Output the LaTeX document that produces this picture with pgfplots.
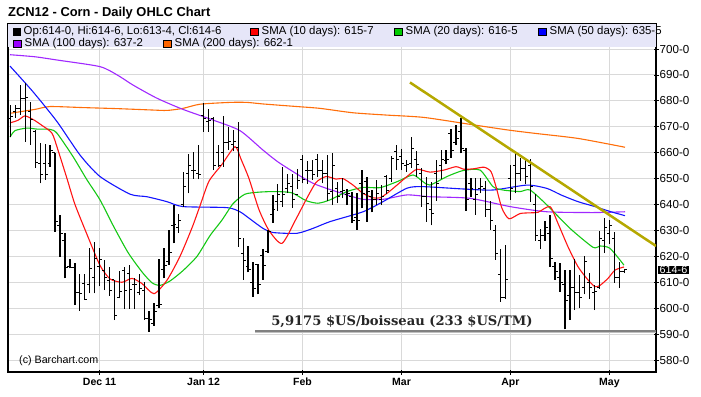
\documentclass[border=0pt]{standalone}
\usepackage{fontspec}
\setmainfont{Liberation Sans}
\newfontfamily\dvserif{DejaVu Serif}
\usepackage{pgfplots}
\usepackage{pgfplotstable}
\pgfplotsset{compat=1.18}
\definecolor{smared}{RGB}{255,20,20}
\definecolor{smagreen}{RGB}{20,200,20}
\definecolor{smablue}{RGB}{20,20,255}
\definecolor{smapurple}{RGB}{160,40,255}
\definecolor{smaorange}{RGB}{255,110,10}
\definecolor{legred}{RGB}{255,0,0}
\definecolor{leggreen}{RGB}{0,204,0}
\definecolor{legblue}{RGB}{0,0,255}
\definecolor{legpurple}{RGB}{153,0,255}
\definecolor{legorange}{RGB}{255,102,0}
\definecolor{bandc}{RGB}{230,230,248}
\definecolor{trendc}{RGB}{181,168,0}
\definecolor{gridc}{RGB}{217,217,217}

\pgfplotstableread{
i H L O C
0 678.4 666.2 673.0 674.0
1 678.5 673.5 676.0 677.0
2 686.0 674.5 677.0 681.0
3 686.8 664.2 681.0 681.4
4 679.5 663.0 676.0 672.9
5 668.7 654.0 668.0 656.3
6 663.9 648.2 656.0 651.7
7 663.5 649.5 656.0 651.7
8 663.0 654.5 656.0 661.0
9 660.0 629.5 660.0 633.4
10 636.0 619.9 632.0 628.9
11 628.9 611.5 626.0 615.8
12 619.0 615.4 616.0 615.8
13 617.3 601.2 615.8 606.1
14 613.0 599.0 606.0 605.7
15 613.2 603.3 609.6 603.5
16 623.1 605.7 609.0 615.4
17 625.7 605.7 612.0 619.0
18 623.1 608.5 616.0 618.6
19 618.6 607.0 614.5 612.0
20 616.0 604.8 610.5 607.0
21 610.9 595.4 610.9 597.0
22 614.4 603.8 604.0 606.4
23 616.0 599.6 614.5 606.8
24 616.5 599.8 613.5 607.3
25 611.5 599.6 609.3 609.3
26 613.0 605.0 606.0 607.7
27 610.0 595.5 607.0 596.1
28 599.0 590.9 596.0 595.5
29 602.0 593.2 594.0 598.6
30 618.9 600.0 601.0 601.6
31 623.3 611.5 615.0 616.3
32 630.0 616.7 618.0 621.4
33 640.0 625.0 632.0 632.1
34 636.3 629.2 631.0 634.0
35 652.5 639.0 640.0 647.0
36 659.6 644.3 652.0 655.0
37 660.4 650.0 653.0 653.3
38 663.0 649.7 652.0 651.7
39 679.2 668.1 674.5 673.3
40 676.7 668.1 672.0 672.6
41 673.6 653.3 673.3 655.0
42 663.0 654.6 660.0 654.9
43 674.0 654.6 660.0 664.0
44 670.0 661.0 664.0 664.3
45 668.7 660.5 663.0 664.3
46 672.0 623.7 662.0 627.0
47 627.0 610.9 621.0 618.5
48 624.0 613.8 616.0 614.9
49 618.0 604.5 610.0 607.7
50 617.0 605.3 616.7 609.0
51 623.0 611.0 620.5 616.3
52 630.3 621.4 622.0 629.5
53 643.5 633.0 636.0 638.1
54 648.0 637.5 641.0 643.7
55 654.6 639.2 641.0 643.7
56 651.7 644.6 646.0 648.2
57 651.6 638.8 646.9 641.8
58 653.6 645.9 644.0 649.2
59 659.1 648.2 657.2 649.5
60 656.8 648.0 653.0 653.3
61 657.2 649.5 653.3 651.4
62 659.3 650.5 657.2 653.3
63 657.3 648.2 653.3 651.8
64 659.0 641.5 652.0 644.3
65 659.7 639.8 645.0 655.0
66 648.5 640.5 646.0 643.0
67 650.1 642.5 645.0 645.6
68 645.8 639.8 644.0 644.3
69 645.0 632.8 643.0 634.0
70 644.6 630.2 635.0 634.0
71 653.3 638.5 648.2 644.3
72 650.8 633.4 648.8 645.0
73 645.6 637.0 643.0 641.8
74 649.5 639.8 642.0 644.3
75 647.5 639.8 642.0 643.0
76 651.4 644.0 650.8 645.6
77 658.8 648.5 650.0 657.8
78 663.0 653.3 660.4 657.2
79 661.3 653.3 658.5 655.9
80 657.2 652.5 655.0 655.3
81 666.0 654.0 656.0 661.7
82 660.7 650.8 657.2 655.3
83 654.0 639.2 652.0 643.0
84 650.5 633.4 643.0 640.5
85 648.8 632.0 638.0 636.6
86 657.2 641.5 652.0 648.2
87 661.2 649.8 655.0 657.2
88 661.0 655.5 657.0 657.2
89 669.0 658.0 667.5 661.0
90 670.7 663.0 664.0 665.5
91 673.3 659.7 668.0 661.7
92 661.7 637.5 661.0 642.0
93 650.1 643.0 648.0 646.0
94 650.1 636.0 642.0 644.0
95 650.1 644.3 646.0 647.0
96 649.0 635.3 646.0 638.0
97 641.5 630.2 638.0 634.0
98 632.0 618.6 630.0 621.0
99 622.8 602.5 613.0 604.0
100 624.5 603.5 604.0 611.0
101 655.2 641.8 650.0 646.0
102 659.7 644.3 655.0 652.0
103 658.0 649.2 652.0 654.0
104 658.0 647.8 654.0 651.0
105 657.6 641.1 655.0 647.0
106 644.0 626.0 640.0 628.0
107 630.5 622.8 626.0 628.0
108 633.7 626.0 628.0 631.0
109 636.0 616.0 629.0 619.0
110 618.0 610.9 616.0 614.0
111 617.3 606.4 612.0 610.0
112 614.7 591.8 609.0 603.0
113 614.7 595.5 605.0 608.0
114 619.0 599.3 608.0 606.0
115 612.8 600.0 606.0 604.0
116 620.0 605.3 608.0 618.0
117 613.5 603.5 610.0 608.0
118 609.0 599.3 606.0 606.5
119 629.6 607.5 608.0 627.0
120 634.7 621.2 626.0 631.0
121 634.0 624.7 629.0 632.0
122 629.4 609.9 627.0 612.0
123 617.7 607.7 612.0 614.0
124 614.75 613.5 614.0 614.75
}\bars

\newcommand{\legfont}{\fontsize{11.4}{12}\selectfont}
\newcommand{\legsq}[3]{\node[draw=black, fill=#3, minimum size=7.5pt, inner sep=0pt, line width=0.5pt] at (#1pt,-#2pt) {};}
\newcommand{\legtx}[3]{\node[anchor=west, inner sep=0pt, font=\legfont] at (#1pt,-#2pt) {#3};}

\begin{document}
\begin{tikzpicture}
\path[use as bounding box] (0pt,0pt) rectangle (701pt,-396pt);
\begin{axis}[
  at={(8pt,-24pt)}, anchor=north west,
  scale only axis, width=648pt, height=348pt,
  xmin=8, xmax=656, ymin=575.38, ymax=709.65,
  axis line style={line width=1.4pt, black},
  xtick={99.6,203.55,302.55,401.55,510.45,609.45},
  xticklabels={Dec 11,Jan 12,Feb,Mar,Apr,May},
  ytick={580,590,...,700},
  yticklabels={580-0,590-0,600-0,610-0,620-0,630-0,640-0,650-0,660-0,670-0,680-0,690-0,700-0},
  ytick pos=right, yticklabel pos=right, xtick pos=bottom,
  tick align=center, major tick length=5pt,
  tick style={black, line width=0.8pt},
  grid=major, grid style={gridc, line width=0.9pt},
  yticklabel style={font=\fontsize{11.6}{12}\selectfont, inner xsep=1pt},
  xticklabel style={font=\bfseries\fontsize{10.5}{12}\selectfont},
]
% legend band
\fill[bandc] (axis cs:8,700.8) rectangle (axis cs:656,709.65);

% SMA 200
\addplot[smaorange, line width=1.1pt, smooth, tension=0.4, mark=none] coordinates {
(10,675.2) (35,676.7) (50,677.8) (83,677.4) (117,677) (150,676.5) (167,676.3) (183,677.1) (200,678.7) (230,679.4) (247,679.4) (263,678.8) (297,677.8) (320,677.1) (353,675.4) (387,674.5) (424,673.6) (474,670.7) (507,668.8) (534,667.5) (578,665.5) (625,662.1)};
% SMA 100
\addplot[smapurple, line width=1.1pt, smooth, tension=0.4, mark=none] coordinates {
(10,697.8) (35,697) (58,695.7) (100,693.2) (118,689.8) (133,686.1) (157,681) (183,676.7) (213,672.6) (240,668.5) (263,661) (280,655.9) (313,648.2) (347,643.7) (363,642) (383,642) (407,643.7) (430,643) (470,642.4) (510,639.2) (547,637.2) (593,636.9) (625,637.2)};
% SMA 50
\addplot[smablue, line width=1.1pt, smooth, tension=0.4, mark=none] coordinates {
(10,693.4) (33,683.5) (57,672) (80,659.1) (100,650.8) (130,644) (147,643) (167,641.1) (183,639.2) (227,638.8) (240,637.2) (247,635.3) (263,630.8) (273,629.2) (297,628.9) (313,630.8) (330,633.4) (363,637.2) (383,641.1) (407,646.3) (423,646.9) (463,646) (493,645.6) (527,647.5) (547,646.2) (561,643.7) (578,641.1) (595,639.2) (611,637.2) (625,635.7)};
% SMA 20
\addplot[smagreen, line width=1.1pt, smooth, tension=0.4, mark=none] coordinates {
(10,666) (15,668.5) (27,669.5) (37,669.1) (50,669) (57,667.5) (73,658.5) (87,649.5) (100,641.8) (113,632) (128,621.5) (142,614) (152,609.8) (160,608.8) (170,610.5) (183,614.5) (197,620) (210,628) (222,634) (233,640.3) (245,644) (260,644.8) (276,645) (292,644.5) (306,641.5) (318,640.5) (330,641.8) (347,645) (363,646.6) (380,646.5) (397,648.8) (413,651.4) (423,648.8) (430,647.5) (447,650.8) (463,653.1) (480,653.3) (493,646.9) (503,645.6) (520,645) (530,645.6) (547,639.8) (570,630.8) (593,623.5) (600,624) (610,623.1) (624,616.6)};
% SMA 10
\addplot[smared, line width=1.1pt, smooth, tension=0.4, mark=none] coordinates {
(10,671.5) (18,672.5) (25,674.2) (34,672.6) (42,670.5) (52,667.5) (58,661) (67,650) (75,640) (88,627.5) (100,616.5) (110,611.3) (122,610) (132,611.5) (142,609.5) (154,605.6) (167,610.8) (180,620) (192,631) (200,639.5) (209,649) (222,655.5) (235,662.3) (241,657.5) (249,650) (259,638) (269,630) (282,625) (296,634.4) (306,641.8) (316,648.5) (326,650.8) (336,649.8) (343,650) (353,647.5) (363,644.3) (373,642.6) (380,642.6) (387,644.3) (397,647.5) (407,650.8) (417,653.6) (430,652.5) (444,653.3) (456,654.6) (464,653.6) (474,653.8) (484,654.4) (491,652.7) (496,646.9) (502,638.5) (509,634.5) (520,636.5) (530,636.8) (538,637) (550,639.2) (558,632.7) (568,623.7) (578,616) (588,610.9) (595,608.3) (600,608.8) (608,611.5) (615,614.7) (624,615.9)};

% OHLC bars
\addplot[black, line width=1.3pt, -, mark=none, quiver={u=0, v=\thisrow{H}-\thisrow{L}}]
  table[x expr=10.5+4.95*\thisrow{i}, y=L] {\bars};
\addplot[black, line width=1pt, -, mark=none, quiver={u=-2.6, v=0}]
  table[x expr=10.5+4.95*\thisrow{i}, y=O] {\bars};
\addplot[black, line width=1pt, -, mark=none, quiver={u=2.6, v=0}]
  table[x expr=10.5+4.95*\thisrow{i}, y=C] {\bars};

% trend line and support line
\addplot[trendc, line width=2.5pt, mark=none] coordinates {(410,687.1) (656,624.0)};
\addplot[black!25, line width=1pt, mark=none] coordinates {(255,590.5) (656,590.5)};
\addplot[black!50, line width=2pt, mark=none] coordinates {(255,591.3) (656,591.3)};
\end{axis}

% title
\node[anchor=west, inner sep=0pt, font=\bfseries\fontsize{12.9}{15}\selectfont] at (8pt,-13pt) {ZCN12 - Corn - Daily OHLC Chart};
% legend
\legsq{16.6}{32}{black}\legtx{23.5}{32}{Op:614-0, Hi:614-6, Lo:613-4, Cl:614-6}
\legsq{254}{32}{legred}\legtx{261.5}{32}{SMA (10 days): 615-7}
\legsq{398}{32}{leggreen}\legtx{405.5}{32}{SMA (20 days): 616-5}
\legsq{542}{32}{legblue}\legtx{549.5}{32}{SMA (50 days): 635-5}
\legsq{17}{44}{legpurple}\legtx{24.5}{44}{SMA (100 days): 637-2}
\legsq{167}{44}{legorange}\legtx{174.5}{44}{SMA (200 days): 662-1}
% annotation
\node[font=\dvserif\bfseries\fontsize{13.1}{15}\selectfont, text=black!85, inner sep=0pt] at (402pt,-322pt) {5,9175 \$US/boisseau (233 \$US/TM)};
% copyright
\node[anchor=west, inner sep=0pt, font=\fontsize{10.7}{12}\selectfont] at (19pt,-361pt) {(c) Barchart.com};
% last price box
\node[anchor=west, fill=black, text=white, inner xsep=1.5pt, inner ysep=0.5pt, font=\fontsize{10.8}{11}\selectfont] at (658pt,-270pt) {614-6};
\end{tikzpicture}
\end{document}
